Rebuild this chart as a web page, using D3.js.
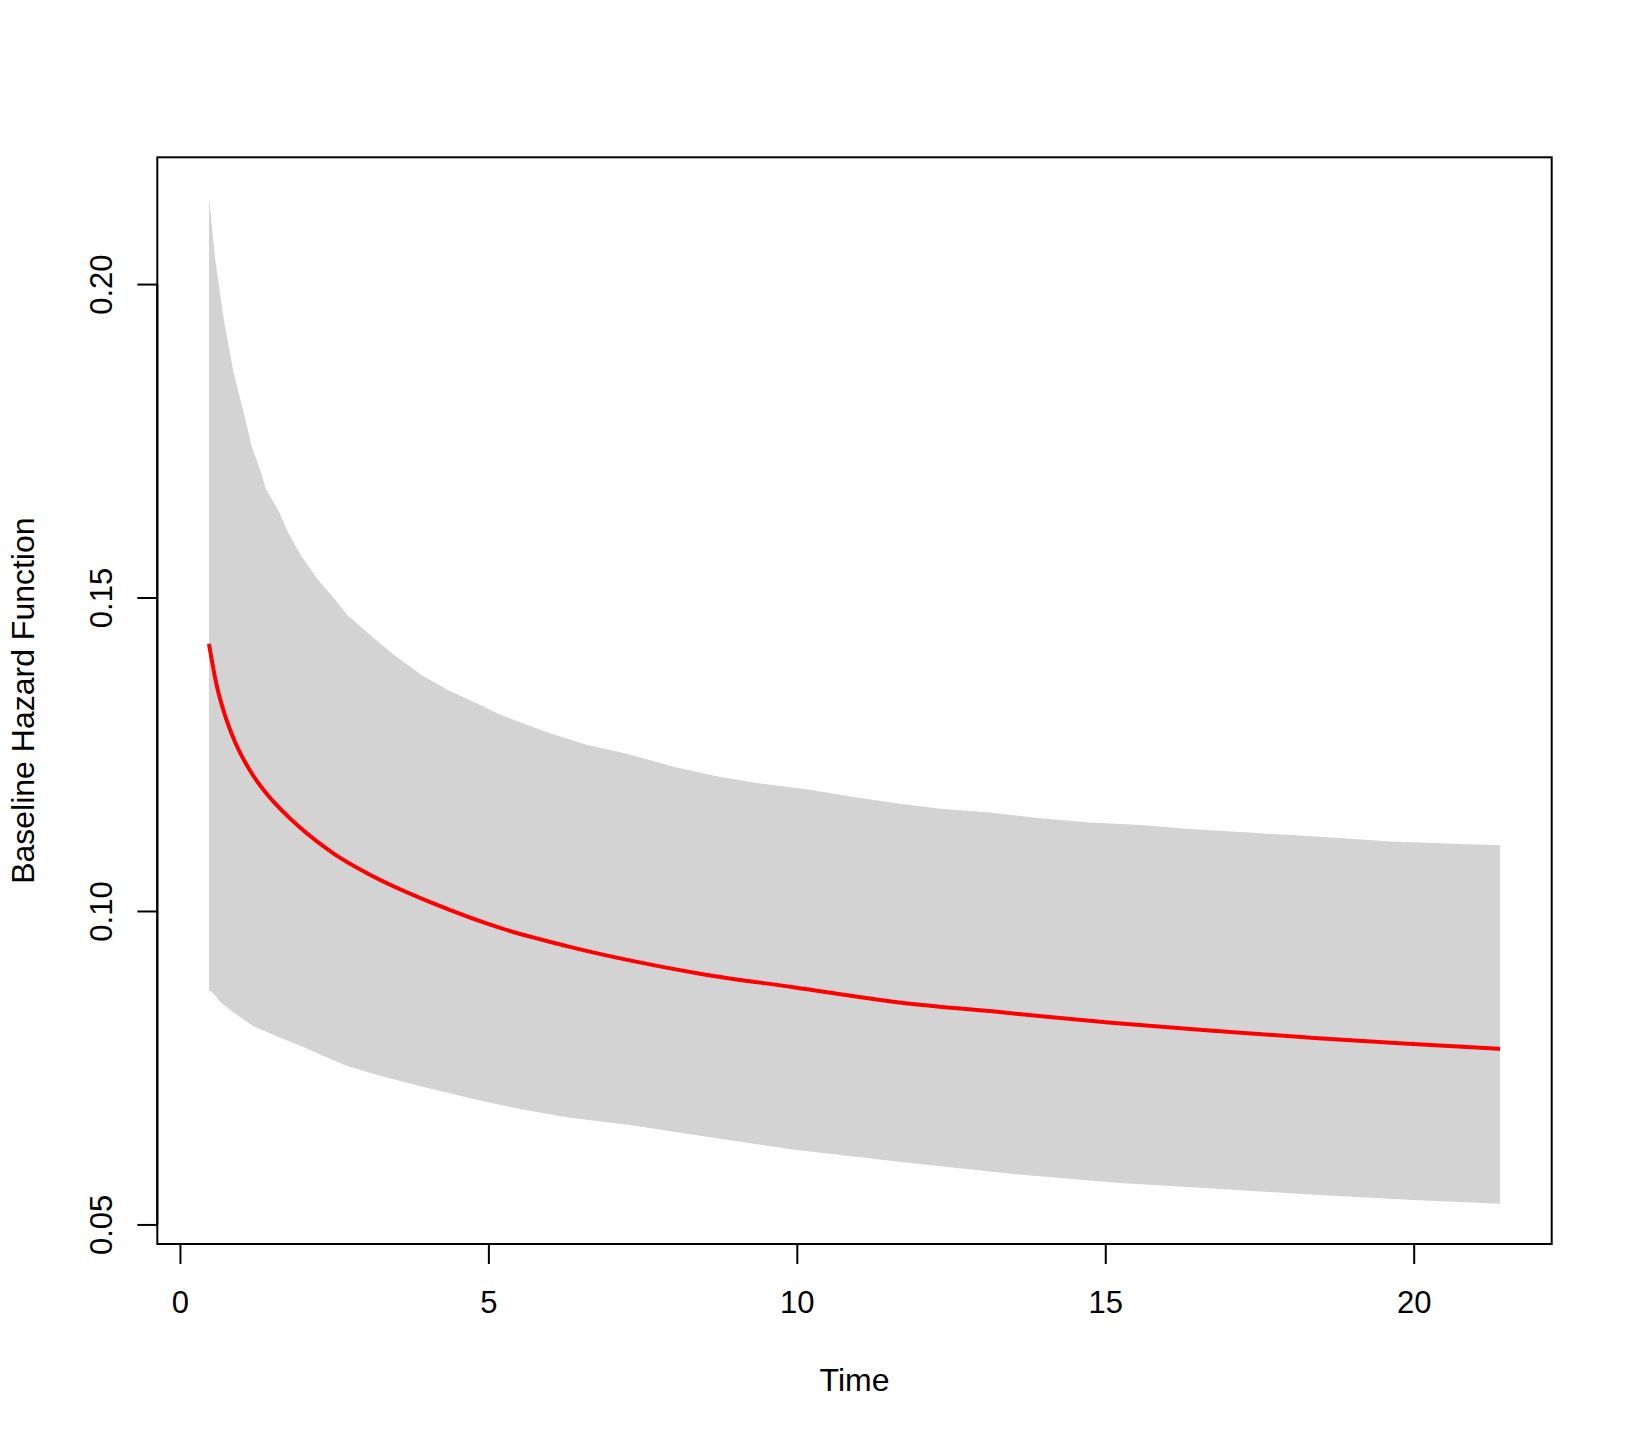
<!DOCTYPE html>
<html>
<head>
<meta charset="utf-8">
<script src="https://cdn.jsdelivr.net/npm/d3@7"></script>
<style>
  html, body { margin: 0; padding: 0; background: #ffffff; }
  svg { display: block; }
  text { font-family: "Liberation Sans", Arial, Helvetica, sans-serif; fill: #000; }
</style>
</head>
<body>
<script>
// ---- data ----
const upperTime = [0.47, 0.57, 0.71, 0.87, 1.01, 1.17, 1.31, 1.39, 1.61, 1.75, 1.97, 2.24, 2.52, 2.71, 3.12, 3.46, 3.92, 4.35, 4.88, 5.19, 5.95, 6.59, 7.14, 7.57, 8.00, 8.70, 9.35, 10.16, 10.92, 11.68, 12.32, 13.13, 13.95, 14.76, 15.57, 16.32, 17.19, 18.00, 18.86, 19.62, 20.43, 21.40];
const upperValue = [0.2138, 0.2041, 0.1944, 0.1858, 0.1804, 0.1739, 0.1701, 0.1674, 0.1636, 0.1604, 0.1566, 0.1528, 0.1496, 0.1472, 0.1437, 0.1409, 0.1376, 0.1352, 0.1328, 0.1313, 0.1285, 0.1265, 0.1253, 0.1242, 0.1230, 0.1215, 0.1204, 0.1194, 0.1182, 0.1171, 0.1163, 0.1157, 0.1148, 0.1141, 0.1137, 0.1131, 0.1126, 0.1121, 0.1116, 0.1111, 0.1108, 0.1105];

const lowerTime = [0.47, 0.50, 0.59, 0.65, 0.87, 1.19, 1.62, 1.95, 2.32, 2.70, 3.24, 4.00, 4.76, 5.51, 6.27, 7.35, 8.27, 9.97, 11.84, 13.54, 15.24, 16.94, 18.47, 20.00, 21.40];
const lowerValue = [0.0873, 0.0872, 0.0863, 0.0855, 0.0838, 0.0816, 0.0798, 0.0785, 0.0769, 0.0753, 0.0737, 0.0718, 0.0700, 0.0684, 0.0671, 0.0658, 0.0644, 0.0619, 0.0598, 0.0580, 0.0566, 0.0556, 0.0547, 0.0539, 0.0533];

const hazardTime = [0.47, 0.595, 0.73, 0.865, 1.135, 1.405, 1.676, 1.946, 2.486, 3.135, 4.108, 5.189, 6.27, 7.35, 8.43, 9.97, 11.66, 13.36, 15.05, 16.75, 18.45, 20.14, 21.40];
const hazardValue = [0.1426, 0.1360, 0.1312, 0.1276, 0.1224, 0.1187, 0.1158, 0.1133, 0.1092, 0.1055, 0.1012, 0.0973, 0.0944, 0.0920, 0.0900, 0.0878, 0.0854, 0.0838, 0.0822, 0.0809, 0.0797, 0.0787, 0.0780];

const xTicks = [0, 5, 10, 15, 20];
const yTicks = [0.05, 0.10, 0.15, 0.20];
const xTitle = "Time";
const yTitle = "Baseline Hazard Function";

// ---- layout ----
const W = 1632, H = 1440;
const box = { left: 157.3, right: 1551.7, top: 157.3, bottom: 1244 };

const svg = d3.select("body").append("svg").attr("width", W).attr("height", H);

// R-style 4% padding on data range
function padded(ext) { const d = (ext[1] - ext[0]) * 0.04; return [ext[0] - d, ext[1] + d]; }
const xExt = d3.extent(upperTime.concat(lowerTime, hazardTime));
const yExt = d3.extent(upperValue.concat(lowerValue, hazardValue));

const x = d3.scaleLinear().domain(padded(xExt)).range([box.left, box.right]);
const y = d3.scaleLinear().domain(padded(yExt)).range([box.bottom, box.top]);

// ---- confidence band polygon ----
const upperPts = upperTime.map((t, i) => [t, upperValue[i]]);
const lowerPts = lowerTime.map((t, i) => [t, lowerValue[i]]);
const bandPts = upperPts.concat(lowerPts.slice().reverse());
svg.append("path")
  .datum(bandPts)
  .attr("d", d3.line().x(d => x(d[0])).y(d => y(d[1])).curve(d3.curveLinearClosed))
  .attr("fill", "#d3d3d3")
  .attr("stroke", "none");

// ---- hazard line ----
const hazPts = hazardTime.map((t, i) => [t, hazardValue[i]]);
svg.append("path")
  .datum(hazPts)
  .attr("d", d3.line().x(d => x(d[0])).y(d => y(d[1])).curve(d3.curveMonotoneX))
  .attr("fill", "none")
  .attr("stroke", "#ff0000")
  .attr("stroke-width", 4);

// ---- frame ----
svg.append("rect")
  .attr("x", box.left).attr("y", box.top)
  .attr("width", box.right - box.left).attr("height", box.bottom - box.top)
  .attr("fill", "none").attr("stroke", "#000").attr("stroke-width", 2);

// ---- axes ----
const xAxis = svg.append("g")
  .attr("transform", `translate(0,${box.bottom})`)
  .call(d3.axisBottom(x).tickValues(xTicks).tickSize(20).tickPadding(27).tickFormat(d3.format("d")));
const yAxis = svg.append("g")
  .attr("transform", `translate(${box.left},0)`)
  .call(d3.axisLeft(y).tickValues(yTicks).tickSize(20).tickFormat(d3.format(".2f")));

[xAxis, yAxis].forEach(g => {
  g.selectAll("path.domain").attr("stroke", "#000").attr("stroke-width", 2);
  g.selectAll(".tick line").attr("stroke", "#000").attr("stroke-width", 2);
  g.selectAll("text").attr("font-size", 31).attr("font-family", "'Liberation Sans', Arial, Helvetica, sans-serif").attr("fill", "#000");
});
// keep domain lines spanning only the ticks, like R
xAxis.select("path.domain").attr("d", `M${x(xTicks[0])},0H${x(xTicks[xTicks.length-1])}`);
yAxis.select("path.domain").attr("d", `M0,${y(yTicks[0])}V${y(yTicks[yTicks.length-1])}`);

// rotate y tick labels (parallel to axis)
yAxis.selectAll(".tick text")
  .attr("transform", "rotate(-90)")
  .attr("x", 0).attr("y", -45.6).attr("dy", null)
  .attr("text-anchor", "middle");

// ---- titles ----
svg.append("text")
  .attr("x", (box.left + box.right) / 2).attr("y", 1391)
  .attr("text-anchor", "middle").attr("font-size", 32)
  .text(xTitle);
svg.append("text")
  .attr("transform", `translate(33.5,${(box.top + box.bottom) / 2}) rotate(-90)`)
  .attr("text-anchor", "middle").attr("font-size", 32)
  .text(yTitle);
</script>
</body>
</html>
